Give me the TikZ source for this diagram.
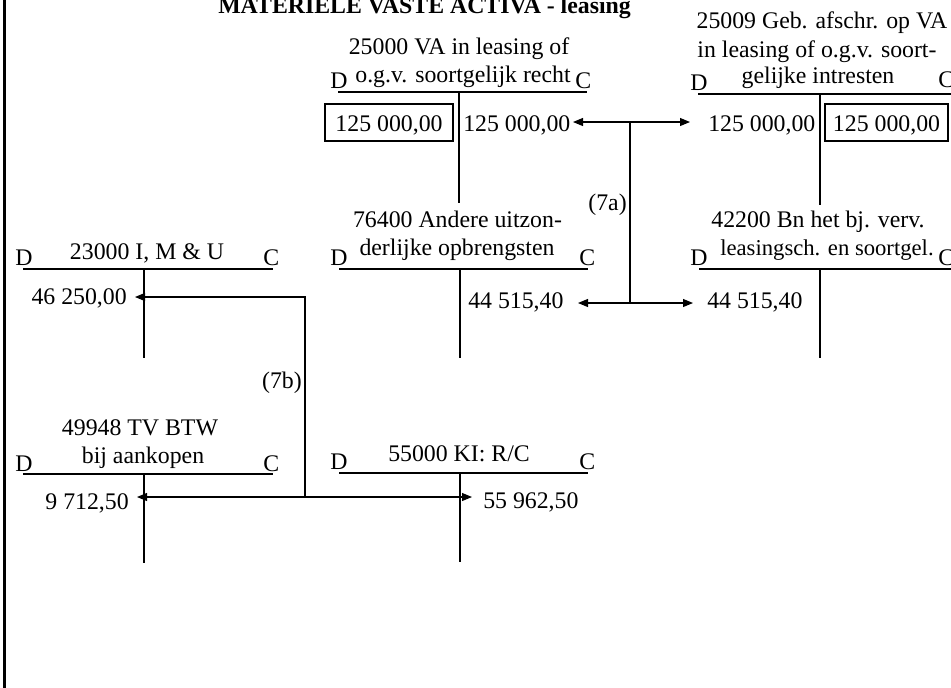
\documentclass[tikz,border=0pt]{standalone}
\usepackage{fontspec}
\setmainfont{Liberation Serif}
\usetikzlibrary{arrows.meta}
\begin{document}
\begin{tikzpicture}[x=0.75pt,y=-0.75pt,
  >={Triangle[length=7.5pt,width=6pt]},
  txt/.style={font=\fontsize{17.85}{21}\selectfont, inner sep=0pt},
  tl/.style={txt, anchor=base},
  dl/.style={txt, anchor=base west},
  amtl/.style={txt, anchor=base west},
  amtr/.style={txt, anchor=base east},
  boxed/.style={txt, draw, line width=0.8pt, text height=20.25pt, text depth=7.5pt},
  ttl/.style={anchor=base west, inner sep=0pt, font=\bfseries\fontsize{17.85}{21}\selectfont},
  acct/.style={line width=0.8pt},
  conn/.style={line width=0.8pt}]
\clip (0,0) rectangle (951,687);
\useasboundingbox (0,0) rectangle (951,687);
\fill[white] (0,0) rectangle (951,687);
% frame
\draw[line width=2.3pt] (4.5,-5) -- (4.5,700);
% title
\node[ttl] (title) at (218,13) {MATERIËLE VASTE ACTIVA - leasing};

% Account 25000
\node[tl] (a1) at (459,54) {25000 VA in leasing of};
\node[tl] (a2) at (463,82) {o.g.v. soortgelijk recht};
\node[dl] (aD) at (330,88) {D};
\node[dl] (aC) at (575,88) {C};
\draw[acct] (338,92) -- (587,92);
\draw[acct] (459,92) -- (459,203);
\node[boxed, minimum width=96pt, anchor=base] (aL) at (389,131) {125 000,00};
\node[amtl] (aR) at (463,131) {125 000,00};

% Account 25009
\node[tl] (b1) at (822,28) {25009 Geb. afschr. op VA};
\node[tl] (b2) at (817,57) {in leasing of o.g.v. soort-};
\node[tl] (b3) at (818,83) {gelijke intresten};
\node[dl] (bD) at (690,90) {D};
\node[dl] (bC) at (938,87) {C};
\draw[acct] (698,94) -- (960,94);
\draw[acct] (820,94) -- (820,205);
\node[amtl] (bL) at (708,131) {125 000,00};
\node[boxed, minimum width=92.25pt, anchor=base] (bR) at (886.5,131) {125 000,00};

% Account 76400
\node[tl] (c1) at (457.5,227) {76400 Andere uitzon-};
\node[tl] (c2) at (457,255) {derlijke opbrengsten};
\node[dl] (cD) at (330,265) {D};
\node[dl] (cC) at (579,265) {C};
\draw[acct] (339,269) -- (588,269);
\draw[acct] (460,269) -- (460,358);
\node[amtl] (cR) at (468,308) {44 515,40};

% Account 42200
\node[tl] (d1) at (818,227) {42200 Bn het bj. verv.};
\node[tl, font=\fontsize{17}{20}\selectfont] (d2) at (827,255) {leasingsch. en soortgel.};
\node[dl] (dD) at (690,265) {D};
\node[dl] (dC) at (938,265) {C};
\draw[acct] (699,269) -- (960,269);
\draw[acct] (820,269) -- (820,358);
\node[amtl] (dL) at (707,308) {44 515,40};

% Account 23000
\node[tl] (e1) at (147,259) {23000 I, M \& U};
\node[dl] (eD) at (15,265) {D};
\node[dl] (eC) at (263,265) {C};
\draw[acct] (23,269) -- (273,269);
\draw[acct] (144,269) -- (144,358);
\node[amtr] (eL) at (127,304) {46 250,00};

% Account 49948
\node[tl] (f1) at (140,435) {49948 TV BTW};
\node[tl] (f2) at (143,463) {bij aankopen};
\node[dl] (fD) at (15,471) {D};
\node[dl] (fC) at (263,471) {C};
\draw[acct] (23,474) -- (273,474);
\draw[acct] (144,474) -- (144,563);
\node[amtr] (fL) at (129,509) {9 712,50};

% Account 55000
\node[tl] (g1) at (459,461) {55000 KI: R/C};
\node[dl] (gD) at (330,469) {D};
\node[dl] (gC) at (579,469) {C};
\draw[acct] (339,473) -- (588,473);
\draw[acct] (460,473) -- (460,562);
\node[amtl] (gR) at (483,508) {55 962,50};

% Connectors (7a)
\coordinate (t7a) at (630,122);
\coordinate (b7a) at (630,303);
\coordinate (aTip) at (573,122);
\coordinate (bTip) at (690,122);
\coordinate (cTip) at (578,303);
\coordinate (dTip) at (693,303);
\draw[conn,<->] (aTip) -- (bTip);
\draw[conn] (t7a) -- (b7a);
\draw[conn,<->] (cTip) -- (dTip);
\node[txt, anchor=east] (l7a) at (627,205) {(7a)};

% Connectors (7b)
\coordinate (t7b) at (305,297);
\coordinate (b7b) at (305,497);
\coordinate (eTip) at (135,297);
\coordinate (fTip) at (137,497);
\coordinate (gTip) at (472,497);
\draw[conn,->] (b7b) -- (t7b) -- (eTip);
\draw[conn,<->] (fTip) -- (gTip);
\node[txt, anchor=east] (l7b) at (302,383) {(7b)};
\end{tikzpicture}
\end{document}
